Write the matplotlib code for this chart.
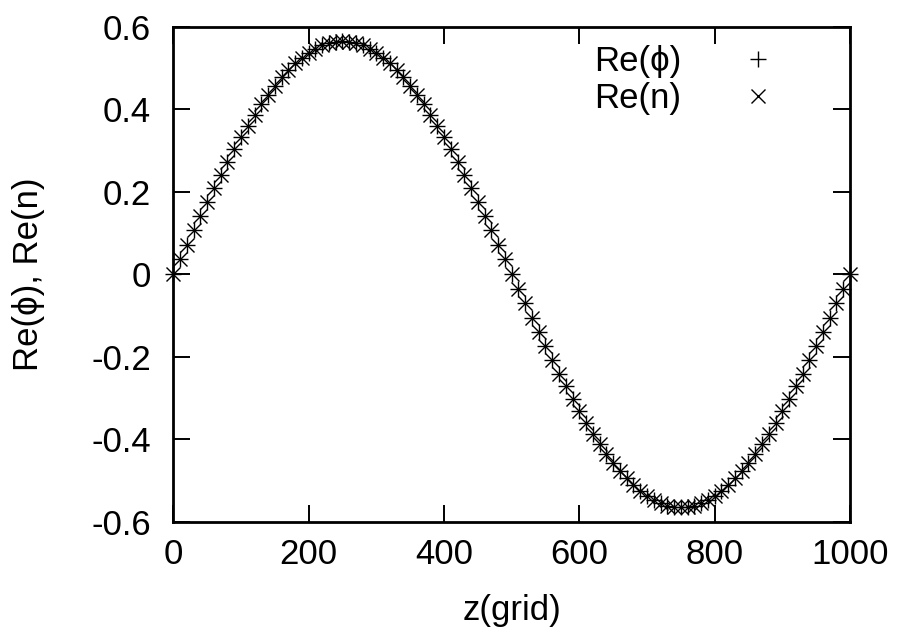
import matplotlib
matplotlib.use("Agg")
from matplotlib import pyplot as plt

plt.rcParams['font.family'] = ['Liberation Sans', 'DejaVu Sans']
plt.rcParams['axes.unicode_minus'] = False

# grid positions (every 10th grid point)
z = list(range(0, 1001, 10))

# Re(phi)
re_phi = [
    0.000, 0.036, 0.071, 0.106, 0.141, 0.175, 0.208, 0.241, 0.272, 0.303,
    0.332, 0.360, 0.387, 0.412, 0.435, 0.457, 0.477, 0.495, 0.511, 0.525,
    0.537, 0.547, 0.555, 0.561, 0.564, 0.565, 0.564, 0.561, 0.555, 0.547,
    0.537, 0.525, 0.511, 0.495, 0.477, 0.457, 0.435, 0.412, 0.387, 0.360,
    0.332, 0.303, 0.272, 0.241, 0.208, 0.175, 0.141, 0.106, 0.071, 0.036,
    0.000, -0.036, -0.071, -0.106, -0.141, -0.175, -0.208, -0.241, -0.272, -0.303,
    -0.332, -0.360, -0.387, -0.412, -0.435, -0.457, -0.477, -0.495, -0.511, -0.525,
    -0.537, -0.547, -0.555, -0.561, -0.564, -0.565, -0.564, -0.561, -0.555, -0.547,
    -0.537, -0.525, -0.511, -0.495, -0.477, -0.457, -0.435, -0.412, -0.387, -0.360,
    -0.332, -0.303, -0.272, -0.241, -0.208, -0.175, -0.141, -0.106, -0.071, -0.036,
    0.000,
]

# Re(n) lies on top of Re(phi)
re_n = [
    0.000, 0.036, 0.071, 0.106, 0.141, 0.175, 0.208, 0.241, 0.272, 0.303,
    0.332, 0.360, 0.387, 0.412, 0.435, 0.457, 0.477, 0.495, 0.511, 0.525,
    0.537, 0.547, 0.555, 0.561, 0.564, 0.565, 0.564, 0.561, 0.555, 0.547,
    0.537, 0.525, 0.511, 0.495, 0.477, 0.457, 0.435, 0.412, 0.387, 0.360,
    0.332, 0.303, 0.272, 0.241, 0.208, 0.175, 0.141, 0.106, 0.071, 0.036,
    0.000, -0.036, -0.071, -0.106, -0.141, -0.175, -0.208, -0.241, -0.272, -0.303,
    -0.332, -0.360, -0.387, -0.412, -0.435, -0.457, -0.477, -0.495, -0.511, -0.525,
    -0.537, -0.547, -0.555, -0.561, -0.564, -0.565, -0.564, -0.561, -0.555, -0.547,
    -0.537, -0.525, -0.511, -0.495, -0.477, -0.457, -0.435, -0.412, -0.387, -0.360,
    -0.332, -0.303, -0.272, -0.241, -0.208, -0.175, -0.141, -0.106, -0.071, -0.036,
    0.000,
]

xticks = [0, 200, 400, 600, 800, 1000]
yticks = [-0.6, -0.4, -0.2, 0, 0.2, 0.4, 0.6]

fig = plt.figure(figsize=(9, 6.32), dpi=100)
ax = fig.add_axes([0.1926, 0.1745, 0.7518, 0.7833])

ax.plot(z, re_phi, ls='none', marker='+', ms=12, mew=1.0, color='black',
        label='Re(ϕ)', clip_on=False)
ax.plot(z, re_n, ls='none', marker='x', ms=10.5, mew=1.0, color='black',
        label='Re(n)', clip_on=False)

ax.set_xlim(0, 1000)
ax.set_ylim(-0.6, 0.6)
ax.set_xticks(xticks)
ax.set_xticklabels(['%g' % t for t in xticks])
ax.set_yticks(yticks)
ax.set_yticklabels(['%g' % t for t in yticks])
ax.tick_params(direction='in', length=12, width=1.4, labelsize=25,
               top=True, right=True)
ax.tick_params(axis='x', pad=12)
ax.tick_params(axis='y', pad=16)
for s in ax.spines.values():
    s.set_linewidth(2)

ax.set_xlabel('z(grid)', fontsize=25)
ax.set_ylabel('Re(ϕ), Re(n)', fontsize=25)
ax.xaxis.set_label_coords(0.5, -0.147)
ax.yaxis.set_label_coords(-0.19, 0.5)

ax.legend(loc='upper right', bbox_to_anchor=(0.9, 0.962), frameon=False,
          markerfirst=False, fontsize=25, handlelength=1.4, handletextpad=1.5,
          borderpad=0, borderaxespad=0, labelspacing=0.1)

fig.savefig('out.png', dpi=100)
